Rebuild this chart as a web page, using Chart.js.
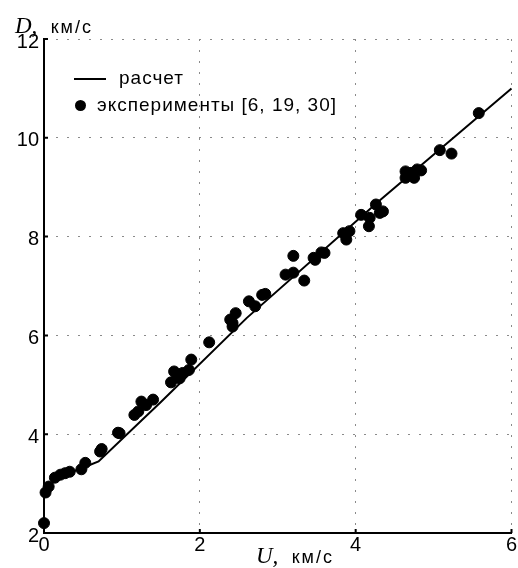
<!DOCTYPE html>
<html>
<head>
<meta charset="utf-8">
<script src="https://cdn.jsdelivr.net/npm/chart.js@4/dist/chart.umd.min.js"></script>
<style>
  body { margin: 0; background: #fff; }
  #wrap { position: relative; width: 518px; height: 568px; }
  .lbl { position: absolute; font-family: "Liberation Sans", Arial, sans-serif; color: #000; white-space: nowrap; }
  .sym { font-family: "Liberation Serif", "Times New Roman", serif; font-style: italic; font-size: 23px; }
  .unit { font-size: 18px; letter-spacing: 2px; }
  .leg { font-size: 19px; letter-spacing: 1px; }
</style>
</head>
<body>
<div id="wrap">
  <canvas id="chart" width="518" height="568"></canvas>
  <div class="lbl" style="left:15px; top:13px;"><span class="sym">D,</span>&nbsp;&nbsp;&nbsp;<span class="unit">км/с</span></div>
  <div class="lbl" style="left:256px; top:543px;"><span class="sym">U,</span>&nbsp;&nbsp;&nbsp;<span class="unit">км/с</span></div>
  <div style="position:absolute; left:74px; top:78px; width:32px; height:2px; background:#000;"></div>
  <div class="lbl leg" style="left:119px; top:67px;">расчет</div>
  <div style="position:absolute; left:75px; top:100px; width:11px; height:11px; border-radius:50%; background:#000;"></div>
  <div class="lbl leg" style="left:97px; top:94px;">эксперименты [6, 19, 30]</div>
</div>
<script>
// расчет (calculated curve)
const calcU = [0, 0.07, 0.15, 0.3, 0.5, 0.7, 1.5, 2.6, 4.3, 6.0];
const calcD = [2.74, 2.95, 3.08, 3.2, 3.32, 3.45, 4.65, 6.35, 8.72, 11.0];

// эксперименты [6, 19, 30]
const expU = [0.0, 0.02, 0.06, 0.14, 0.21, 0.27, 0.33, 0.48, 0.53, 0.72, 0.74, 0.95, 0.97,
  1.16, 1.21, 1.25, 1.31, 1.40, 1.63, 1.67, 1.71, 1.74, 1.78, 1.86, 1.89, 2.12,
  2.42, 2.42, 2.39, 2.46, 2.63, 2.71, 2.80, 2.84, 3.10, 3.20, 3.20, 3.34, 3.46, 3.48,
  3.56, 3.60, 3.84, 3.88, 3.92, 4.07, 4.17, 4.18, 4.26, 4.31, 4.35,
  4.64, 4.64, 4.71, 4.75, 4.79, 4.84, 5.08, 5.23, 5.58];
const expD = [2.2, 2.82, 2.94, 3.12, 3.18, 3.21, 3.24, 3.29, 3.42, 3.65, 3.70, 4.03, 4.02,
  4.39, 4.46, 4.66, 4.59, 4.70, 5.05, 5.27, 5.20, 5.13, 5.24, 5.30, 5.51, 5.86,
  6.25, 6.18, 6.32, 6.45, 6.69, 6.59, 6.82, 6.84, 7.23, 7.27, 7.61, 7.11, 7.57, 7.53,
  7.68, 7.67, 8.07, 7.94, 8.11, 8.44, 8.21, 8.38, 8.65, 8.48, 8.51,
  9.32, 9.19, 9.29, 9.19, 9.36, 9.34, 9.75, 9.68, 10.50];

const xTicks = [0, 2, 4, 6];
const yTicks = [2, 4, 6, 8, 10, 12];

const toXY = (xs, ys) => xs.map((x, i) => ({ x: x, y: ys[i] }));

// small tick marks pointing into the plot
const innerTicks = {
  id: "innerTicks",
  afterDraw(chart) {
    const ctx = chart.ctx;
    const xs = chart.scales.x;
    const ys = chart.scales.y;
    const area = chart.chartArea;
    ctx.save();
    ctx.strokeStyle = "#000";
    ctx.lineWidth = 2;
    ctx.beginPath();
    xTicks.forEach((v) => {
      const px = xs.getPixelForValue(v);
      ctx.moveTo(px, area.bottom);
      ctx.lineTo(px, area.bottom - 4);
    });
    yTicks.forEach((v) => {
      const py = ys.getPixelForValue(v);
      ctx.moveTo(area.left, py);
      ctx.lineTo(area.left + 4, py);
    });
    ctx.stroke();
    ctx.restore();
  },
};

const noPad = () => ({ left: 0, top: 0, right: 0, bottom: 0 });
const tickFont = { family: "'Liberation Sans', Arial, sans-serif", size: 20 };

new Chart(document.getElementById("chart").getContext("2d"), {
  type: "scatter",
  data: {
    datasets: [
      {
        label: "эксперименты",
        data: toXY(expU, expD),
        backgroundColor: "#000",
        borderColor: "#000",
        pointRadius: 5.5,
        pointHoverRadius: 5.5,
        clip: false,
      },
      {
        label: "расчет",
        type: "line",
        data: toXY(calcU, calcD),
        borderColor: "#000",
        borderWidth: 2,
        pointRadius: 0,
        fill: false,
        tension: 0,
        clip: false,
      },
    ],
  },
  options: {
    responsive: false,
    animation: false,
    events: [],
    layout: { padding: { top: 39, right: 3, left: 0, bottom: 0 } },
    plugins: { legend: { display: false }, tooltip: { enabled: false } },
    scales: {
      x: {
        type: "linear",
        min: 0,
        max: 6,
        afterFit: (s) => { s.height = 35; s.getPadding = noPad; },
        afterBuildTicks: (s) => { s.ticks = xTicks.map((v) => ({ value: v })); },
        ticks: { color: "#000", font: tickFont, padding: 0, maxRotation: 0 },
        grid: { color: "#8a8a8a", lineWidth: 1, drawTicks: false },
        border: { display: true, color: "#000", width: 2, dash: [2, 9] },
      },
      y: {
        type: "linear",
        min: 2,
        max: 12,
        afterFit: (s) => { s.width = 44; s.getPadding = noPad; },
        afterBuildTicks: (s) => { s.ticks = yTicks.map((v) => ({ value: v })); },
        ticks: { color: "#000", font: tickFont, padding: 5, labelOffset: 3 },
        grid: { color: "#8a8a8a", lineWidth: 1, drawTicks: false },
        border: { display: true, color: "#000", width: 2, dash: [2, 9] },
      },
    },
  },
  plugins: [innerTicks],
});
</script>
</body>
</html>
